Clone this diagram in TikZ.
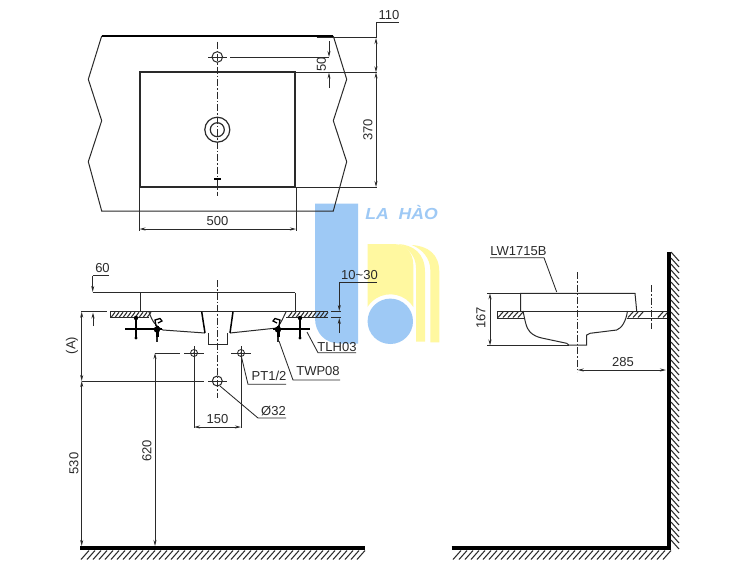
\documentclass[tikz,border=0pt]{standalone}
\usepackage{fontspec}
\setmainfont{Liberation Sans}
\usetikzlibrary{arrows.meta}
\definecolor{wmblue}{HTML}{9EC9F5}
\definecolor{wmyellow}{HTML}{FFF8A0}
\definecolor{ink}{HTML}{2A2A2A}
\tikzset{
  thinline/.style={draw=ink,line width=1pt},
  midline/.style={draw=ink,line width=1.2pt},
  boldline/.style={draw=black,line width=3.2pt},
  dimline/.style={draw=ink,line width=0.85pt},
  arr/.style={-{Stealth[length=6pt,width=3pt]}},
  arrboth/.style={{Stealth[length=6pt,width=3pt]}-{Stealth[length=6pt,width=3pt]}},
  axisline/.style={draw=ink,line width=1pt,dash pattern=on 7pt off 2pt on 1.5pt off 2pt},
  hatchline/.style={draw=ink,line width=1.05pt},
  dimtext/.style={font=\fontsize{13}{13}\selectfont,text=ink,inner sep=0pt},
  dimrot/.style={dimtext,rotate=90},
  wmtext/.style={font=\fontsize{16}{16}\selectfont\bfseries\itshape,text=wmblue,inner sep=0pt,xscale=1.1}
}
\begin{document}
\begin{tikzpicture}[x=1pt,y=-1pt]
\useasboundingbox (0,0) rectangle (750,560);
\fill[white] (0,0) rectangle (750,560);
% ---- watermark
\fill[wmblue] (315,203.5) -- (358,203.5) -- (358,343.5) -- (340,343.5) .. controls (325,343.5) and (315,333) .. (315,318) -- cycle;
\fill[wmyellow] (367.7,244) -- (393.3,244) .. controls (405,244) and (413.3,252) .. (413.3,265) -- (413.3,307) arc[start angle=-32,end angle=-148,radius=27] -- cycle;
\fill[wmyellow] (398.3,244) .. controls (413,245) and (425,253) .. (425,272) -- (425,341.7) -- (416,341.7) -- (416,268) .. controls (416,256) and (408,248) .. (398.3,244) -- cycle;
\fill[wmyellow] (411.7,245) .. controls (428,246) and (439.3,254) .. (439.3,272) -- (439.3,342.3) -- (430.3,342.3) -- (430.3,270) .. controls (430.3,258) and (422,249) .. (411.7,245) -- cycle;
\fill[wmblue] (390.3,321.3) circle[radius=22.7];
\node[wmtext,anchor=center] (brand) at (401.5,213) {LA\hspace{9pt}HÀO};
% ---- top view outline
\draw[thinline] (101.7,36) -- (88.3,79.3) -- (101.7,120.7) -- (88.3,161.7) -- (101.7,211) -- (333.3,211) -- (346.7,161.7) -- (333.3,120.7) -- (346.7,79.3) -- (333.3,36);
\draw[draw=black,line width=2.8pt] (101.7,36) -- (333.3,36);
\draw[draw=ink,line width=1.9pt] (140,72.3) rectangle (295,186.7);
\draw[axisline] (217.3,41.5) -- (217.3,196);
\draw[thinline] (217.3,57) circle[radius=5.3];
\draw[thinline] (208,57) -- (227,57);
\draw[midline] (217.3,129.7) circle[radius=12.5];
\draw[midline] (217.3,129.7) circle[radius=7];
\draw[draw=black,line width=1.7pt] (214,179) -- (221,179);
% top view dimensions
\draw[dimline] (230,57) -- (329,57);
\draw[dimline,arr] (329,41) -- (329,57);
\draw[dimline,arr] (329,88) -- (329,72.6);
\node[dimrot] (d50) at (321.5,64.5) {50};
\draw[dimline] (316.7,37.7) -- (376.5,37.7);
\draw[dimline] (295,72.3) -- (376.5,72.3);
\draw[dimline] (296,187) -- (376.5,187);
\draw[dimline] (398.5,22.7) -- (376,22.7) -- (376,38);
\draw[dimline,arrboth] (376,38) -- (376,72.3);
\draw[dimline,arrboth] (376,72.3) -- (376,187);
\node[dimtext] (d110) at (389,15) {110};
\node[dimrot] (d370) at (368,130) {370};
\draw[dimline] (139.5,187) -- (139.5,230.5);
\draw[dimline] (296,187) -- (296,230.5);
\draw[dimline,arrboth] (139.5,229) -- (296,229);
\node[dimtext] (d500) at (217.5,221.5) {500};
% ---- front view
\draw[axisline] (217.3,280) -- (217.3,398);
\draw[dimline] (109,275.7) -- (92.7,275.7);
\draw[dimline,arr] (92.7,275.7) -- (92.7,292);
\node[dimtext] (d60) at (102.5,268.5) {60};
\draw[thinline] (92.5,292.7) -- (295,292.7);
\draw[thinline] (140,292.7) -- (140,311.7);
\draw[thinline] (295,292.7) -- (295,311.7);
\draw[thinline] (81,311.7) -- (107,311.7);
\draw[thinline] (110,311.7) -- (328,311.7);
\draw[dimline,arr] (93,326) -- (93,312.5);
% counter sections
\foreach \hx in {111,115,...,147}{\draw[hatchline] (\hx,317.5) -- (\hx+4,312.3);}
\foreach \hx in {288,292,...,324}{\draw[hatchline] (\hx,317.5) -- (\hx+4,312.3);}
\draw[thinline] (110,317.7) -- (149,317.7);
\draw[thinline] (286,317.7) -- (328,317.7);
\draw[thinline] (110,312) -- (110,317.7);
% bowl
\draw[thinline] (149,312) .. controls (152,321) and (156,327) .. (163,330) -- (205,333);
\draw[thinline] (230,333) -- (277,328) .. controls (281,323) and (283,318) .. (286,312);
\draw[draw=black,line width=1.5pt] (201.7,311.7) -- (205,333);
\draw[draw=black,line width=1.5pt] (233,311.7) -- (230,333);
\draw[thinline] (208,333) -- (208,344.5) -- (227,344.5) -- (227,333);
% fittings
\draw[draw=black,line width=1.4pt] (125,329) -- (162,329);
\draw[draw=black,line width=1.4pt] (273,329) -- (310,329);
\draw[draw=black,line width=1.6pt] (136,318) -- (136,338);
\draw[draw=black,line width=1.6pt] (300,318) -- (300,338);
\fill[black] (136,338) circle[radius=1.7];
\fill[black] (300,338) circle[radius=1.7];
\fill[black] (136,318) circle[radius=2.2];
\fill[black] (300,318) circle[radius=2.2];
\draw[draw=black,line width=3pt] (157,326) -- (157,337);
\draw[draw=ink,line width=1.6pt] (157,337) -- (157,342);
\draw[draw=black,line width=3pt] (278,326) -- (278,337);
\draw[draw=ink,line width=1.6pt] (278,337) -- (278,342);
\draw[draw=black,line width=1.3pt] (156,326) -- (155,320) -- (160,318.5) -- (162,321) -- (158,323);
\draw[draw=black,line width=1.3pt] (279,326) -- (280,320) -- (275,318.5) -- (273,321) -- (277,323);
\fill[black] (157,329.5) circle[radius=3.2];
\fill[black] (278,329.5) circle[radius=3.2];
% water inlets
\foreach \ix/\iname in {194/ia,241/ib}{
  \draw[dimline] (\ix,353) circle[radius=3.5];
  \fill[ink] (\ix,353) circle[radius=1];
  \draw[dimline] (\ix-10,353) -- (\ix+10,353);
  \draw[dimline] (\ix,346) -- (\ix,360);
  \draw[dimline] (\ix,360) -- (\ix,428);
}
\draw[thinline] (217.3,381) circle[radius=5];
\draw[thinline] (208,381) -- (227,381);
% front dimensions
\draw[dimline,arrboth] (194,427) -- (241,427);
\node[dimtext] (d150) at (217.5,419.5) {150};
\draw[dimline] (155,353) -- (180,353);
\draw[dimline,arrboth] (155,353) -- (155,546);
\node[dimrot] (d620) at (147,451) {620};
\draw[dimline] (81.7,381) -- (204,381);
\draw[dimline,arrboth] (81.7,311.7) -- (81.7,381);
\draw[dimline,arrboth] (81.7,381) -- (81.7,546);
\node[dimrot] (da) at (72,345.5) {(A)};
\node[dimrot] (d530) at (74,463.5) {530};
% leaders
\draw[dimline] (307,332) -- (318,352.7) -- (356,352.7);
\node[dimtext,anchor=center] (tlh) at (337,347) {TLH03};
\draw[dimline] (279,341) -- (293,380) -- (340,380);
\node[dimtext] (twp) at (318,371.5) {TWP08};
\draw[dimline] (241,355) -- (248,384.3) -- (286,384.3);
\node[dimtext] (ptn) at (269,376) {PT1/2};
\draw[dimline] (220,386) -- (258,418) -- (286,418);
\node[dimtext] (phi) at (273.5,411) {Ø32};
% 10~30
\draw[dimline] (377,282.3) -- (339.3,282.3);
\draw[dimline,arr] (339.3,282.3) -- (339.3,311);
\draw[dimline,arr] (339.3,333) -- (339.3,318);
\draw[dimline] (331,311.7) -- (341,311.7);
\draw[dimline] (331,317.3) -- (341,317.3);
\node[dimtext] (d1030) at (359.5,275) {10\textasciitilde 30};
% ---- floor 1
\draw[draw=black,line width=3.8pt] (80,547.6) -- (365,547.6);
\foreach \hx in {81,87,...,357}{\draw[hatchline] (\hx,559.5) -- (\hx+8,550.5);}
% ---- side view
\draw[axisline] (577.7,272) -- (577.7,372);
\draw[axisline] (651.7,285) -- (651.7,329);
\node[dimtext] (lw) at (518.5,251.5) {LW1715B};
\draw[dimline] (490,257.7) -- (544,257.7) -- (556.7,292);
\draw[thinline] (520.7,311) -- (520.7,293.3) -- (635,293.3) -- (636.7,311);
\draw[thinline] (497,311) -- (668,311);
\draw[thinline] (497,318) -- (524,318);
\draw[thinline] (626.7,318) -- (668,318);
\draw[thinline] (497,311) -- (497,318);
\foreach \hx in {498,503,...,518}{\draw[hatchline] (\hx,317.5) -- (\hx+5,312);}
\foreach \hx in {628,633,...,640}{\draw[hatchline] (\hx,317.5) -- (\hx+5,312);}
\foreach \hx in {658,663}{\draw[hatchline] (\hx,317.5) -- (\hx+5,312);}
\draw[thinline] (523,311) .. controls (525,320) and (526,328) .. (530,332) .. controls (533,335) and (537,337) .. (541.7,338) -- (566.7,343.3) -- (569,345.2) -- (586.7,345.2) -- (586.7,335) -- (590,333.3) -- (616.7,330) .. controls (622,328) and (626,321) .. (627.5,311);
\draw[dimline] (487,293.3) -- (520.7,293.3);
\draw[dimline] (487,345.5) -- (569,345.5);
\draw[dimline,arrboth] (490,293.3) -- (490,345.5);
\node[dimrot] (d167) at (481,318) {167};
\draw[dimline,arrboth] (577.7,370) -- (666,370);
\node[dimtext] (d285) at (623,362.5) {285};
% wall and floor 2
\draw[boldline] (669,252) -- (669,549);
\draw[draw=black,line width=3.8pt] (451.7,547.6) -- (670.5,547.6);
\foreach \hy in {252,258,...,540}{\draw[hatchline] (671,\hy) -- (679,\hy+9);}
\foreach \hx in {453,459,...,663}{\draw[hatchline] (\hx,559.5) -- (\hx+8,550.5);}
\end{tikzpicture}
\end{document}
